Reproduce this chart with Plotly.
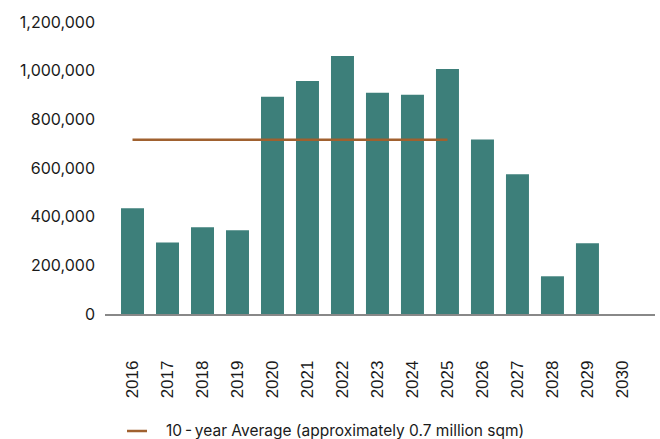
import plotly.graph_objects as go

# Annual completions (sqm)
years = [str(y) for y in range(2016, 2031)]
completions = [435000, 294000, 356000, 344000, 893000, 958000, 1060000,
               909000, 901000, 1007000, 717000, 574000, 155000, 291000, 0]

# 10-year average over 2016-2025
avg_years = years[:10]
avg_value = sum(completions[:10]) / 10
avg_values = [avg_value] * len(avg_years)

y_ticks = [0, 200000, 400000, 600000, 800000, 1000000, 1200000]
y_tick_text = ["0", "200,000", "400,000", "600,000", "800,000", "1,000,000", "1,200,000"]

bar_color = "#3d7f7a"
avg_color = "#a0612f"

fig = go.Figure()
fig.add_trace(go.Bar(
    x=years, y=completions, marker=dict(color=bar_color, line=dict(width=0)),
    showlegend=False, hoverinfo="x+y",
))
fig.add_trace(go.Scatter(
    x=avg_years, y=avg_values, mode="lines",
    line=dict(color=avg_color, width=2.5),
    name="10-year Average (approximately 0.7 million sqm)", showlegend=False,
))

# Legend drawn beneath the axis labels
fig.add_shape(type="line", xref="paper", yref="paper",
              x0=0.040, x1=0.0764, y0=-0.4007, y1=-0.4007,
              line=dict(color=avg_color, width=2.5))
fig.add_annotation(xref="paper", yref="paper", x=0.107, y=-0.398,
                   xanchor="left", yanchor="middle", showarrow=False,
                   text="10\u2009-\u2009year Average (approximately 0.7 million sqm)",
                   font=dict(family="Inter", size=15.5, color="#1a1a1a"))

fig.update_layout(
    width=660, height=439,
    margin=dict(l=105, r=5, t=22, b=125),
    paper_bgcolor="white", plot_bgcolor="white",
    bargap=0.343,
    showlegend=False,
)
fig.update_xaxes(
    type="category", range=[-0.786, 14.93],
    showline=True, linecolor="#888888", linewidth=1.5,
    showgrid=False, zeroline=False, ticks="",
    tickangle=-90, ticklabelstandoff=38,
    tickfont=dict(family="Liberation Sans", size=17, color="#1a1a1a"),
)
fig.update_yaxes(
    range=[0, 1200000], tickvals=y_ticks, ticktext=y_tick_text,
    showline=False, showgrid=False, zeroline=False, ticks="",
    ticklabelstandoff=9,
    tickfont=dict(family="Inter", size=16, color="#1a1a1a"),
)

fig.write_html("out.html")
